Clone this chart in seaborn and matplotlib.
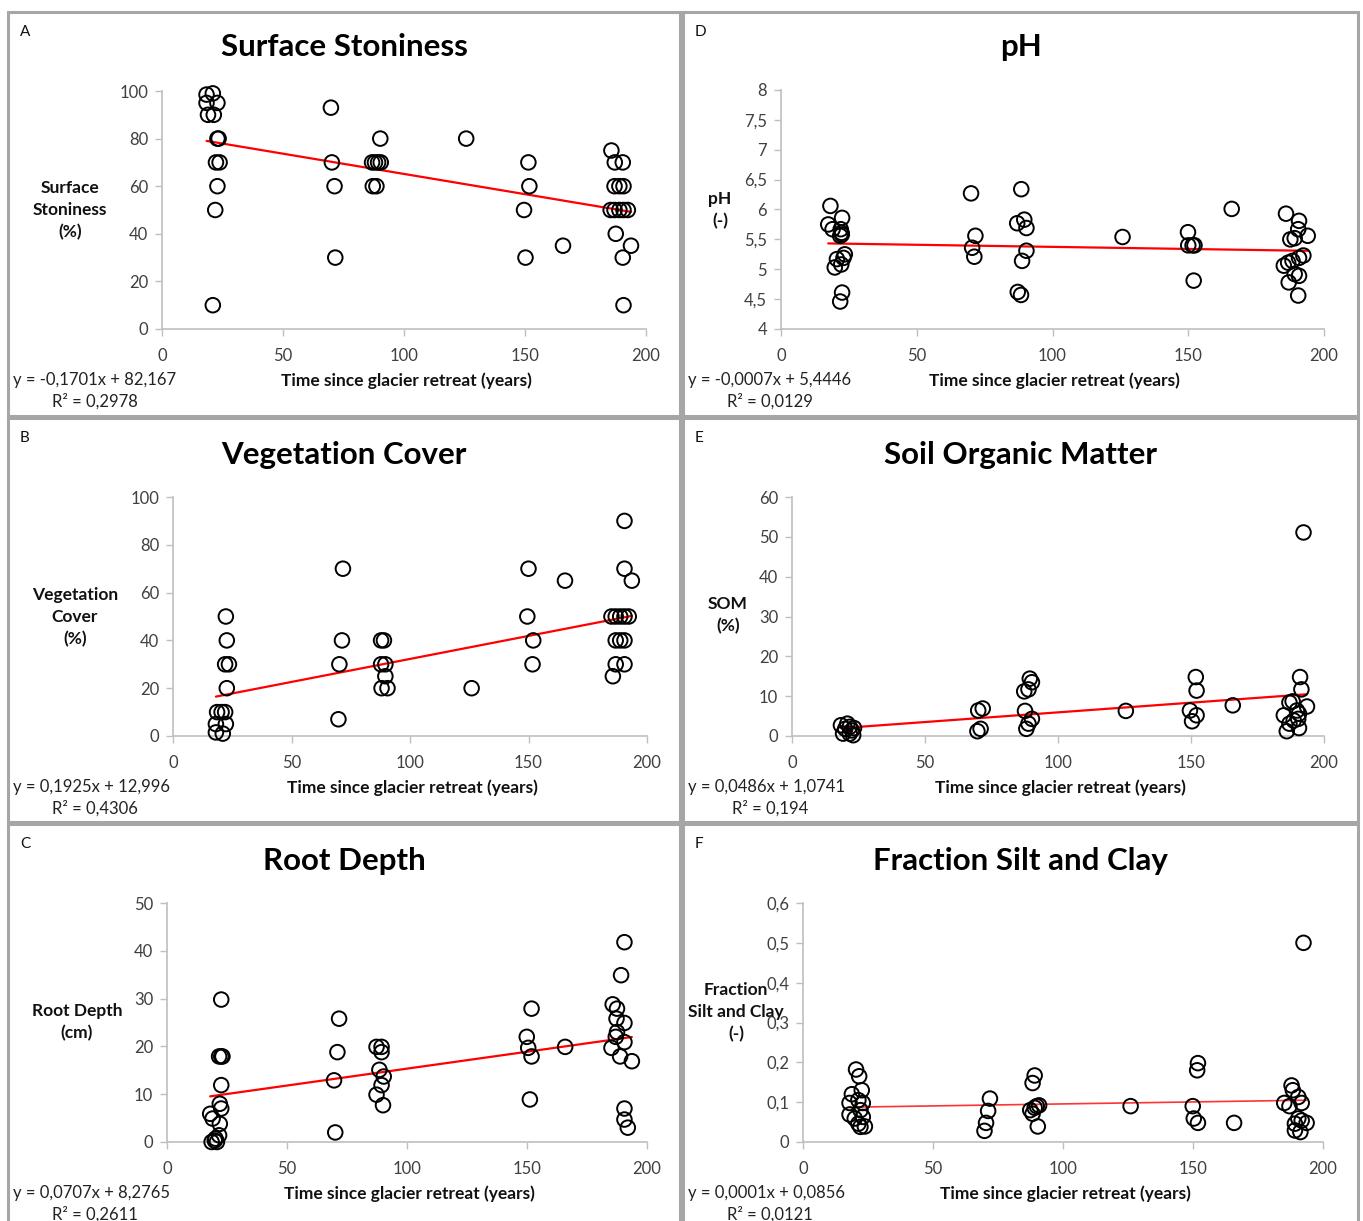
import numpy as np
import pandas as pd
import matplotlib
matplotlib.use("Agg")
import matplotlib.pyplot as plt
from matplotlib.patches import Rectangle
from matplotlib.ticker import FuncFormatter
import seaborn as sns

sns.set_theme(style="white")
plt.rcParams['font.family'] = ['Lato', 'DejaVu Sans']

stone_x = [18.4, 21, 18.4, 22.9, 19, 21.4, 22.9, 23.4, 22.3, 23.8, 22.9, 22, 21,
           69.8, 70.2, 71.3, 71.6, 90.2, 86.8, 88, 89.3, 90.4, 87.1, 88.6, 125.7,
           151.4, 151.8, 149.6, 150.2, 165.7, 185.7, 187.1, 190.4, 187, 189, 190.7,
           185.4, 187, 189, 190.7, 192.5, 187.5, 193.8, 190.4, 190.7]
stone_y = [98.5, 99, 95, 95, 90, 90, 80, 80, 70, 70, 60, 50, 10,
           93, 70, 60, 30, 80, 70, 70, 70, 70, 60, 60, 80,
           70, 60, 50, 30, 35, 75, 70, 70, 60, 60, 60,
           50, 50, 50, 50, 50, 40, 35, 30, 10]

ph_x = [18.2, 17.4, 19, 22.5, 22, 22.3, 21.8, 22.4, 20.6, 23, 19.8, 22.2, 23.5, 22.5, 21.8,
        70, 71.6, 70.4, 71.2, 88.5, 87, 89.6, 90.4, 90.4, 88.8, 87.2, 88.4, 125.8,
        149.9, 150, 151.6, 152.3, 152, 166, 186, 190.8, 190.5, 187.6, 189.2, 194, 192.4,
        186.8, 185.2, 188.4, 189.2, 190.8, 187, 190.5, 190.8]
ph_y = [6.06, 5.75, 5.67, 5.86, 5.67, 5.61, 5.56, 5.58, 5.17, 5.19, 5.03, 5.08, 5.25, 4.61, 4.46,
        6.27, 5.56, 5.36, 5.21, 6.34, 5.77, 5.83, 5.69, 5.31, 5.14, 4.62, 4.57, 5.54,
        5.62, 5.40, 5.40, 5.40, 4.81, 6.01, 5.93, 5.81, 5.67, 5.50, 5.52, 5.56, 5.23,
        5.11, 5.06, 5.14, 4.92, 4.89, 4.78, 4.56, 5.19]

veg_x = [22.3, 22.7, 22, 23.6, 22.7, 18.6, 20.5, 22, 18.1, 22.3, 18.1, 21,
         71.7, 71.3, 70.2, 69.8, 87.8, 89, 87.8, 89.6, 89.6, 88, 90.5, 126,
         150, 149.5, 152, 151.7, 165.4, 190.5, 190.5, 193.6, 185, 186.8, 188.7, 190.5, 192.3,
         186.8, 188.7, 190.5, 186.8, 190.5, 185.6]
veg_y = [50, 40, 30, 30, 20, 10, 10, 10, 5, 5, 1.5, 1,
         70, 40, 30, 7, 40, 40, 30, 30, 25, 20, 20, 20,
         70, 50, 40, 30, 65, 90, 70, 65, 50, 50, 50, 50, 50,
         40, 40, 40, 30, 30, 25]

som_x = [18.4, 20, 21.7, 20.8, 22.5, 23.3, 19.2, 21.7, 23,
         70, 71.7, 69.7, 70.9, 87.3, 88.9, 89.4, 90.2, 87.6, 90.2, 88.9, 88.1, 125.5,
         151.8, 152.1, 149.6, 152.1, 150.4, 165.7, 192.3, 191, 191.5, 187, 188.2, 193.6,
         184.9, 189.8, 190.6, 190.3, 187, 188.6, 190.6, 186]
som_y = [2.7, 1.8, 2.3, 3.1, 1.4, 2, 0.6, 0.6, 0.2,
         6.4, 6.9, 1.2, 1.8, 11.2, 11.7, 14.4, 13.5, 6.3, 4.3, 3.1, 1.8, 6.3,
         14.8, 11.4, 6.4, 5.2, 3.7, 7.7, 51.1, 14.8, 11.7, 8.4, 8.7, 7.4,
         5.2, 6.4, 5.6, 4.3, 3.1, 3.9, 2, 1.2]

root_x = [22.6, 21.7, 22.6, 23.1, 22.6, 22, 22.6, 18, 19, 22, 21.7, 20.2, 18.6, 20.8, 19.9,
          71.7, 71, 69.6, 70.1, 87.3, 89.4, 89.4, 88.5, 90.3, 89.4, 87.3, 90,
          151.9, 149.9, 150.5, 151.9, 151.2, 165.9, 190.6, 189.2, 185.7, 187.5, 187.3,
          190.6, 187.5, 187, 190.6, 185.2, 188.8, 193.7, 190.6, 190.6, 192]
root_y = [29.8, 17.9, 17.9, 17.9, 11.9, 8, 7, 5.9, 4.9, 3.8, 1.4, 0.7, 0, 0, 0.3,
          25.8, 18.8, 12.9, 2, 19.9, 19.9, 18.8, 15.1, 13.7, 11.9, 9.9, 7.7,
          27.9, 22, 19.7, 17.9, 8.9, 19.9, 41.8, 34.9, 28.8, 27.9, 25.8,
          24.9, 23, 22, 20.9, 19.7, 17.9, 16.9, 7, 4.7, 3]

silt_x = [20.4, 21.6, 18.8, 22.6, 17.9, 23, 21.3, 17.9, 22.1, 19.9, 23, 21.3, 23.8, 22.1,
          71.9, 71.2, 70.4, 69.8, 89.1, 88.3, 87.4, 88.3, 89.9, 90.8, 89.1, 90.3, 126,
          151.9, 151.6, 149.9, 150.3, 151.9, 165.8, 192.5, 187.9, 188.4, 185.1, 187.1,
          190.5, 191.8, 190.5, 191.8, 193.7, 189.2, 189.2, 191.3]
silt_y = [0.182, 0.165, 0.12, 0.13, 0.098, 0.098, 0.105, 0.069, 0.08, 0.059, 0.063, 0.046, 0.039, 0.038,
          0.109, 0.078, 0.048, 0.028, 0.167, 0.148, 0.08, 0.071, 0.09, 0.092, 0.086, 0.039, 0.09,
          0.198, 0.18, 0.09, 0.059, 0.048, 0.048, 0.5, 0.142, 0.13, 0.098, 0.09,
          0.113, 0.098, 0.059, 0.054, 0.048, 0.046, 0.029, 0.025]

letters = ["A", "D", "B", "E", "C", "F"]
titles = ["Surface Stoniness", "pH", "Vegetation Cover", "Soil Organic Matter",
          "Root Depth", "Fraction Silt and Clay"]
ylabels = ["Surface\nStoniness\n(%)", "pH\n(-)", "Vegetation\nCover\n(%)", "SOM\n(%)",
           "Root Depth\n(cm)", "Fraction\nSilt and Clay\n(-)"]
slopes = [-0.1701, -0.0007, 0.1925, 0.0486, 0.0707, 0.0001]
intercepts = [82.167, 5.4446, 12.996, 1.0741, 8.2765, 0.0856]
eq_text = ["y = -0,1701x + 82,167", "y = -0,0007x + 5,4446", "y = 0,1925x + 12,996",
           "y = 0,0486x + 1,0741", "y = 0,0707x + 8,2765", "y = 0,0001x + 0,0856"]
r2_text = ["R² = 0,2978", "R² = 0,0129", "R² = 0,4306", "R² = 0,194", "R² = 0,2611", "R² = 0,0121"]
yticks = [np.arange(0, 101, 20), np.arange(4, 8.01, 0.5), np.arange(0, 101, 20),
          np.arange(0, 61, 10), np.arange(0, 51, 10), np.arange(0, 0.61, 0.1)]
xs = [stone_x, ph_x, veg_x, som_x, root_x, silt_x]
ys = [stone_y, ph_y, veg_y, som_y, root_y, silt_y]

W, H = 1363, 1221
fig = plt.figure(figsize=(W / 100, H / 100), dpi=100)
fig.patch.set_facecolor("white")

# layout in pixels
boxes = [(8, 12, 680, 416), (683, 12, 1358, 416), (8, 418, 680, 822),
         (683, 418, 1358, 822), (8, 824, 680, 1228), (683, 824, 1358, 1228)]
axes_px = [(162, 91, 646, 329), (781, 90, 1324, 329), (173, 497, 647, 736),
           (792, 497, 1324, 736), (167, 903, 647, 1142), (803, 903, 1323, 1142)]
ylab_pos = [(70, 210), (720, 210), (75, 617), (728, 615), (77, 1022), (736, 1012)]
title_y = [47, 47, 455, 455, 861, 861]

for x0, y0, x1, y1 in boxes:
    fig.patches.append(Rectangle((x0 / W, 1 - y1 / H), (x1 - x0) / W, (y1 - y0) / H,
                                 transform=fig.transFigure, fill=False,
                                 edgecolor="#a6a6a6", linewidth=2.2))


def comma(v, pos):
    s = f"{v:.1f}".rstrip("0").rstrip(".")
    return s.replace(".", ",")


for i in range(6):
    x0, y0, x1, y1 = axes_px[i]
    ax = fig.add_axes([x0 / W, 1 - y1 / H, (x1 - x0) / W, (y1 - y0) / H])
    df = pd.DataFrame({"x": xs[i], "y": ys[i]})
    sns.scatterplot(data=df, x="x", y="y", ax=ax, s=110, marker="o",
                    facecolors="none", edgecolor="black", linewidth=1.4,
                    zorder=3, clip_on=False)
    lx = np.array([min(xs[i]), max(xs[i])])
    line = pd.DataFrame({"x": lx, "y": slopes[i] * lx + intercepts[i]})
    sns.lineplot(data=line, x="x", y="y", ax=ax, color="red",
                 linewidth=1.2 if i == 5 else 1.6, alpha=0.8 if i == 5 else 1, zorder=2)
    ax.set_xlim(0, 200)
    ax.set_ylim(yticks[i][0], yticks[i][-1])
    ax.set_xticks([0, 50, 100, 150, 200])
    ax.set_yticks(yticks[i])
    ax.yaxis.set_major_formatter(FuncFormatter(comma))
    ax.set_xlabel("")
    ax.set_ylabel("")
    ax.set_facecolor("none")
    for side in ["top", "right"]:
        ax.spines[side].set_visible(False)
    for side in ["left", "bottom"]:
        ax.spines[side].set_color("#bfbfbf")
        ax.spines[side].set_linewidth(1.2)
    ax.tick_params(axis="both", which="major", direction="out", length=5, width=1,
                   color="#bfbfbf", labelsize=12, labelcolor="#404040",
                   left=True, bottom=True)
    ax.tick_params(axis="x", pad=9)
    ax.tick_params(axis="y", pad=5)

    bx0, by0, bx1, by1 = boxes[i]
    fig.text((bx0 + 12) / W, 1 - (by0 + 20) / H, letters[i], fontsize=11,
             ha="left", va="center", color="#111111")
    fig.text(((bx0 + bx1) / 2) / W, 1 - title_y[i] / H, titles[i], fontsize=22.5,
             fontweight="bold", ha="center", va="center", color="black")
    lxp, lyp = ylab_pos[i]
    fig.text(lxp / W, 1 - lyp / H, ylabels[i], fontsize=12.5, fontweight="bold",
             ha="center", va="center", linespacing=1.45, color="#111111")
    fig.text(((x0 + x1) / 2 + 2) / W, 1 - (y1 + 52) / H,
             "Time since glacier retreat (years)", fontsize=12.5, fontweight="bold",
             ha="center", va="center", color="#111111")
    fig.text((bx0 + 5) / W, 1 - (y1 + 51) / H, eq_text[i], fontsize=12,
             ha="left", va="center", color="#222222")
    fig.text((bx0 + 87) / W, 1 - (y1 + 72) / H, r2_text[i], fontsize=12,
             ha="center", va="center", color="#222222")

fig.savefig("out.png", dpi=100)
